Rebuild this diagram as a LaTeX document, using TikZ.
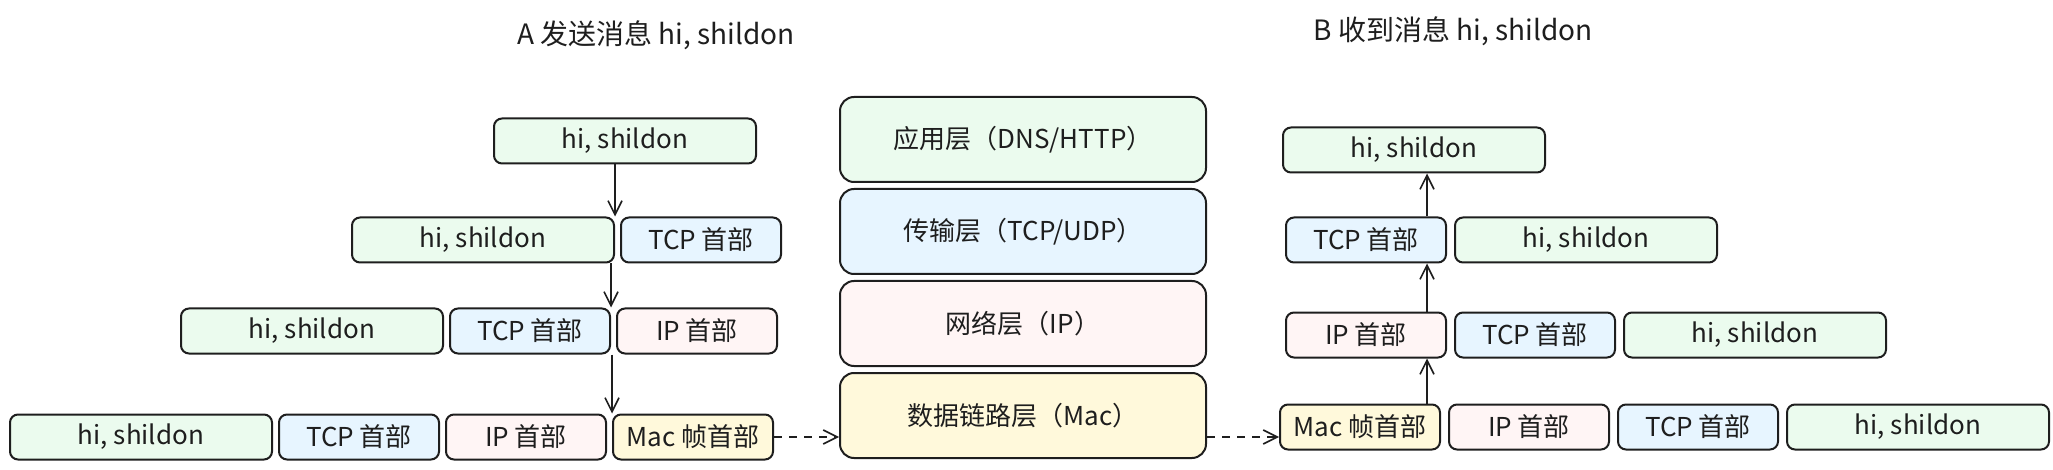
\documentclass[tikz,border=0pt]{standalone}
\usepackage{fontspec}
\setmainfont{Noto Sans CJK SC}
\usetikzlibrary{positioning,arrows.meta}
\definecolor{ink}{HTML}{1E1E1E}
\definecolor{msgfill}{HTML}{EBFBEE}
\definecolor{tcpfill}{HTML}{E7F5FF}
\definecolor{ipfill}{HTML}{FFF5F5}
\definecolor{macfill}{HTML}{FFF9DB}
% packet pieces, layers and arrows
\tikzset{
  pkt/.style={draw=ink, line width=2pt, rounded corners=8pt, minimum height=45pt,
    inner sep=0pt, text=ink, font=\fontsize{26}{30}\selectfont},
  msg/.style={pkt, fill=msgfill, minimum width=262pt},
  tcphdr/.style={pkt, fill=tcpfill, minimum width=160pt},
  iphdr/.style={pkt, fill=ipfill, minimum width=160pt},
  machdr/.style={pkt, fill=macfill, minimum width=160pt},
  layer/.style={draw=ink, line width=2pt, rounded corners=14pt, minimum width=366pt,
    minimum height=85pt, inner sep=0pt, text=ink, font=\fontsize{26}{30}\selectfont},
  flow/.style={draw=ink, line width=1.6pt, -{Straight Barb[length=14pt,width=14pt]}},
  wire/.style={flow, dash pattern=on 8pt off 7pt},
  title/.style={text=ink, font=\fontsize{28}{32}\selectfont}
}

\begin{document}
\begin{tikzpicture}[x=1pt, y=-1pt, node distance=5pt]
  \useasboundingbox (0,0) rectangle (2053,470);

  % sender A
  \node[title] (titleA) at (656,35) {A 发送消息 hi, shildon};
  \node[msg] (s1msg) at (625,141) {hi, shildon};

  \node[msg] (s2msg) at (483,240) {hi, shildon};
  \node[tcphdr, right=of s2msg] (s2tcp) {TCP 首部};

  \node[msg] (s3msg) at (312,331) {hi, shildon};
  \node[tcphdr, right=of s3msg] (s3tcp) {TCP 首部};
  \node[iphdr, right=of s3tcp] (s3ip) {IP 首部};

  \node[msg] (s4msg) at (141,437) {hi, shildon};
  \node[tcphdr, right=of s4msg] (s4tcp) {TCP 首部};
  \node[iphdr, right=of s4tcp] (s4ip) {IP 首部};
  \node[machdr, right=of s4ip] (s4mac) {Mac 帧首部};

  \draw[flow] (s2msg.east |- s1msg.south) -- (s2msg.north east);
  \draw[flow] (s3tcp.east |- s2msg.south) -- (s3tcp.north east);
  \draw[flow] (s4mac.west |- s3ip.south) -- (s4mac.north west);

  % layers
  \node[layer, fill=msgfill] (app) at (1023,139.5) {应用层（DNS/HTTP）};
  \node[layer, fill=tcpfill, below=of app] (trans) {传输层（TCP/UDP）};
  \node[layer, fill=ipfill, below=of trans] (net) {网络层（IP）};
  \node[layer, fill=macfill, below=of net] (link) {数据链路层（Mac）};

  % receiver B
  \node[title] (titleB) at (1453,31) {B 收到消息 hi, shildon};
  \node[msg] (r1msg) at (1414,150) {hi, shildon};

  \node[tcphdr] (r2tcp) at (1366,240) {TCP 首部};
  \node[msg, right=7pt of r2tcp] (r2msg) {hi, shildon};

  \node[iphdr] (r3ip) at (1366,335) {IP 首部};
  \node[tcphdr, right=7pt of r3ip] (r3tcp) {TCP 首部};
  \node[msg, right=7pt of r3tcp] (r3msg) {hi, shildon};

  \node[machdr] (r4mac) at (1360,427) {Mac 帧首部};
  \node[iphdr, right=7pt of r4mac] (r4ip) {IP 首部};
  \node[tcphdr, right=7pt of r4ip] (r4tcp) {TCP 首部};
  \node[msg, right=7pt of r4tcp] (r4msg) {hi, shildon};

  \coordinate (rspine) at ([xshift=-20pt]r3ip.east);
  \draw[flow] (rspine |- r4mac.north) -- (rspine |- r3ip.south);
  \draw[flow] (rspine |- r3ip.north) -- (rspine |- r2tcp.south);
  \draw[flow] (rspine |- r2tcp.north) -- (rspine |- r1msg.south);

  % frame on the wire
  \draw[wire] (s4mac.east) -- (s4mac.east -| link.west);
  \draw[wire] (link.east |- s4mac.east) -- (r4mac.west |- s4mac.east);
\end{tikzpicture}
\end{document}
